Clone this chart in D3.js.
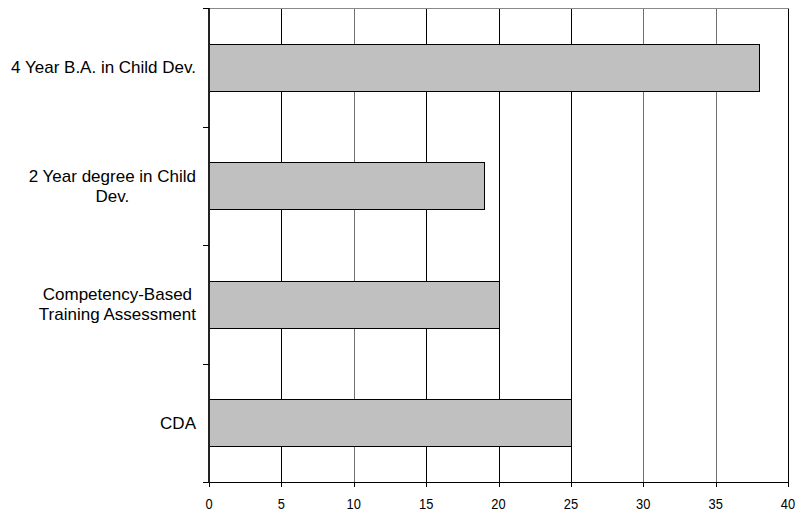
<!DOCTYPE html>
<html>
<head>
<meta charset="utf-8">
<script src="https://cdn.jsdelivr.net/npm/d3@7"></script>
<style>
  body { margin: 0; background: #fff; }
  text { font-family: Arial, "Liberation Sans", sans-serif; fill: #000; }
</style>
</head>
<body>
<svg id="chart" width="796" height="512"></svg>
<script>
// Credential types (top to bottom) and their counts
const categories = [
  ["4 Year B.A. in Child Dev."],
  ["2 Year degree in Child", "Dev."],
  ["Competency-Based", "Training Assessment"],
  ["CDA"]
];
const values = [38, 19, 20, 25];
const xTicks = [0, 5, 10, 15, 20, 25, 30, 35, 40];
const softGrid = [10, 30, 35];

const svg = d3.select("#chart");
const plot = { left: 209, right: 788, top: 8, bottom: 482 };

const x = d3.scaleLinear().domain([0, 40]).range([plot.left, plot.right]);
const y = d3.scaleBand()
  .domain(d3.range(categories.length))
  .range([plot.top, plot.bottom])
  .paddingInner(0.6)
  .paddingOuter(0.3);
const yEdges = d3.scaleLinear().domain([0, categories.length]).range([plot.top, plot.bottom]);

// vertical gridlines
svg.append("g")
  .selectAll("line")
  .data(xTicks.slice(1))
  .join("line")
  .attr("x1", d => Math.round(x(d)) + 0.5)
  .attr("x2", d => Math.round(x(d)) + 0.5)
  .attr("y1", plot.top)
  .attr("y2", plot.bottom)
  .attr("stroke", d => softGrid.includes(d) ? "#707070" : "#000")
  .attr("stroke-width", 1);

// top border
svg.append("line")
  .attr("x1", plot.left).attr("x2", plot.right + 1)
  .attr("y1", plot.top + 0.5).attr("y2", plot.top + 0.5)
  .attr("stroke", "#888");

// bars
svg.append("g")
  .selectAll("rect")
  .data(values)
  .join("rect")
  .attr("x", x(0) + 0.5)
  .attr("y", (d, i) => Math.round(y(i)) + 0.5)
  .attr("width", d => Math.round(x(d) - x(0)))
  .attr("height", Math.round(y.bandwidth()))
  .attr("fill", "#c0c0c0")
  .attr("stroke", "#000")
  .attr("stroke-width", 1);

// bottom axis
const xAxis = svg.append("g")
  .attr("transform", `translate(0,${plot.bottom})`);
xAxis.append("line")
  .attr("x1", plot.left - 6).attr("x2", plot.right + 1)
  .attr("y1", 0.5).attr("y2", 0.5)
  .attr("stroke", "#000");
xAxis.selectAll("line.tick")
  .data(xTicks)
  .join("line")
  .attr("class", "tick")
  .attr("x1", d => Math.round(x(d)) + 0.5)
  .attr("x2", d => Math.round(x(d)) + 0.5)
  .attr("y1", 0).attr("y2", 5)
  .attr("stroke", "#000");
xAxis.selectAll("text")
  .data(xTicks)
  .join("text")
  .attr("transform", d => `translate(${x(d)},27) scale(0.92,1.08)`)
  .attr("text-anchor", "middle")
  .style("font-size", "14px")
  .text(d => d);

// left axis
svg.append("line")
  .attr("x1", plot.left).attr("x2", plot.left)
  .attr("y1", plot.top).attr("y2", plot.bottom + 1)
  .attr("stroke", "#222").attr("stroke-width", 2);
svg.append("g")
  .selectAll("line")
  .data(d3.range(categories.length + 1))
  .join("line")
  .attr("x1", plot.left - 6).attr("x2", plot.left)
  .attr("y1", d => Math.round(yEdges(d)) + 0.5)
  .attr("y2", d => Math.round(yEdges(d)) + 0.5)
  .attr("stroke", "#000");

// category labels: each block right-aligned, lines centred within it
const labelRight = 196;
const lineH = 20;
const labels = svg.append("g").style("font-size", "17px");
categories.forEach((lines, i) => {
  const cy = y(i) + y.bandwidth() / 2;
  const t = labels.append("text").attr("text-anchor", "middle");
  lines.forEach((ln, j) => {
    t.append("tspan")
      .attr("y", cy + (j - (lines.length - 1) / 2) * lineH)
      .attr("dy", "0.36em")
      .text(ln);
  });
  let w = 0;
  t.selectAll("tspan").each(function () { w = Math.max(w, this.getComputedTextLength()); });
  t.selectAll("tspan").attr("x", labelRight - w / 2);
});
</script>
</body>
</html>
